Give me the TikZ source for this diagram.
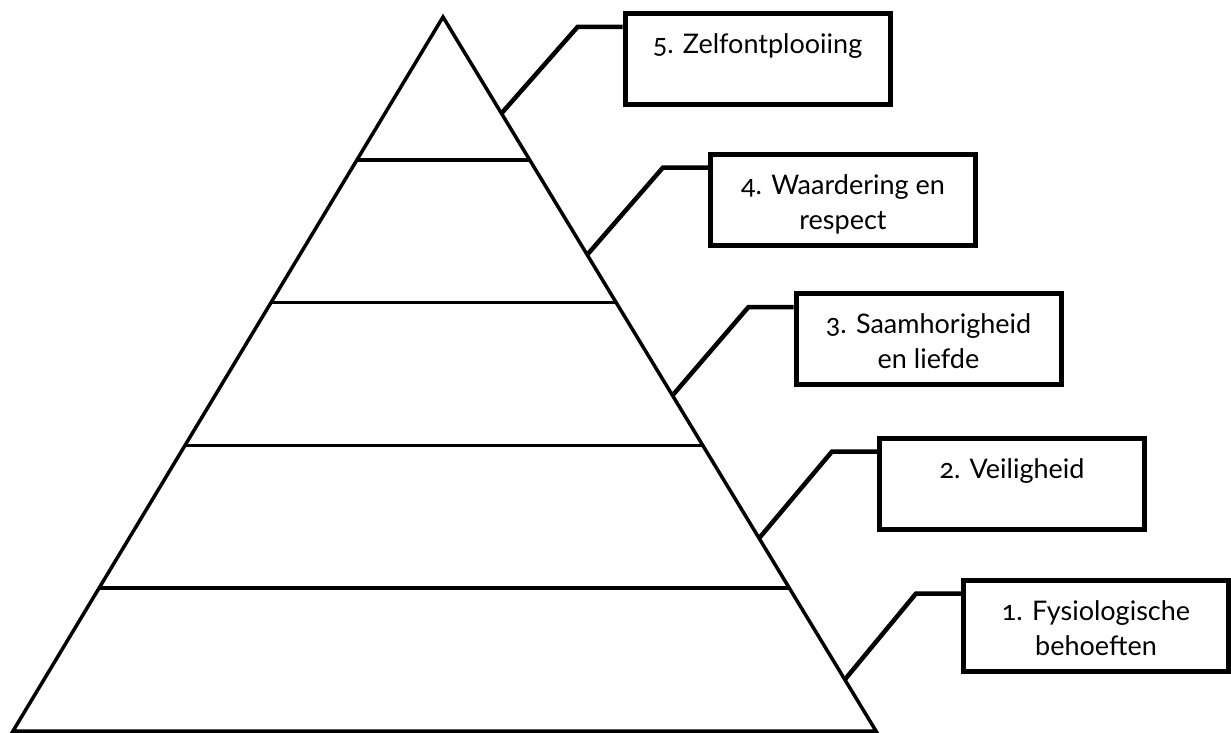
\documentclass[tikz,border=0pt]{standalone}
\usepackage{fontspec}
\setmainfont[Numbers=OldStyle]{Lato}
\usetikzlibrary{positioning,calc}

\tikzset{
  levelbox/.style={draw, line width=5pt, minimum width=265pt, minimum height=91pt, inner sep=0pt},
  levelline/.style={line width=3.5pt},
  pointer/.style={line width=4.5pt}
}
\newcommand{\boxtext}[1]{\parbox[b][91pt][t]{255pt}{\fontsize{27}{35}\selectfont\centering\rule{0pt}{40pt}#1\par}}

\begin{document}
\begin{tikzpicture}[x=1pt,y=-1pt]
    \useasboundingbox (0,0) rectangle (1231,733);

    % Pyramid outline
    \coordinate (top) at (443,17);
    \coordinate (left) at (13,731);
    \coordinate (right) at (876,731);
    \draw[levelline] (left) -- (top) -- (right) -- cycle;

    % Level lines
    \foreach \t in {0.2,0.4,0.6,0.8}
        \draw[levelline] ($(top)!\t!(left)$) -- ($(top)!\t!(right)$);

    % Level boxes
    \node[levelbox] (zelf) at (757.5,59) {\boxtext{5. Zelfontplooiing}};
    \node[levelbox] (waard) at (843,199.5) {\boxtext{4. Waardering en\\respect}};
    \node[levelbox] (saam) at (928.5,339) {\boxtext{3. Saamhorigheid\\en liefde}};
    \node[levelbox] (veil) at (1012,483.5) {\boxtext{2. Veiligheid}};
    \node[levelbox] (fysio) at (1096,625.5) {\boxtext{1. Fysiologische\\behoeften}};

    % Pointers from the pyramid to the boxes
    \foreach \t/\b in {0.135/zelf,0.333/waard,0.53/saam,0.73/veil,0.928/fysio}
        \draw[pointer] ($(top)!\t!(right)$) -- ($(\b.north west)+(-45,16)$) -- ($(\b.north west)+(0,16)$);

\end{tikzpicture}
\end{document}
